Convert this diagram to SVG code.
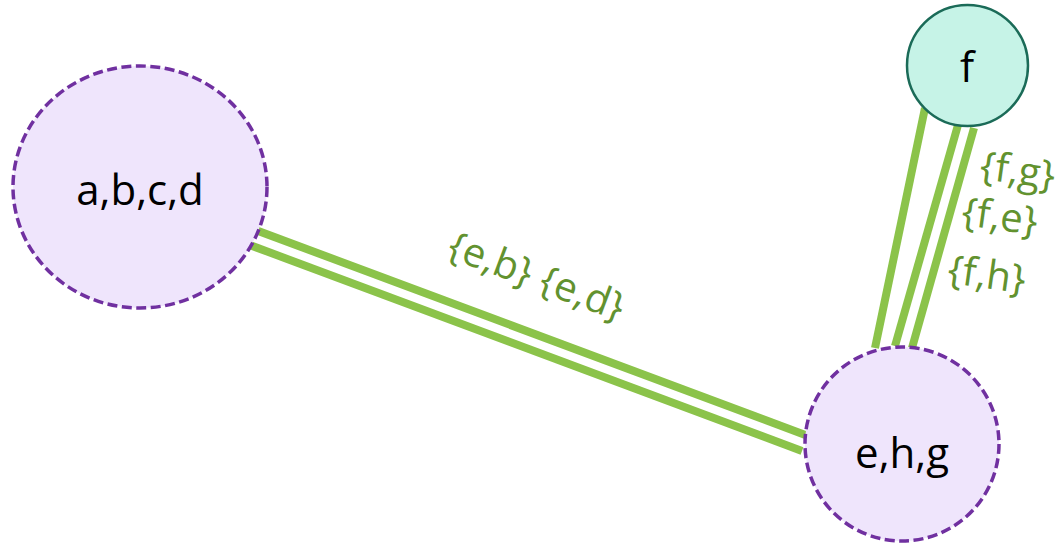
<svg xmlns="http://www.w3.org/2000/svg" width="1062" height="547" viewBox="0 0 1062 547">
<style>
.grp{fill:#EFE5FC;stroke:#7030A0;stroke-width:3.5;stroke-dasharray:10 4.5}
.single{fill:#C6F3E7;stroke:#1B6B58;stroke-width:2.5}
.edge{stroke:#8BC34A;stroke-width:8;fill:none}
.nl{font-family:"Open Sans","Liberation Sans",sans-serif;font-size:42px;fill:#000;text-anchor:middle}
.el{font-family:"Open Sans","Liberation Sans",sans-serif;font-size:40px;fill:#62922F;text-anchor:middle}
</style>
<rect width="1062" height="547" fill="#fff"/>
<g id="connectors">
<line class="edge" x1="253" y1="229" x2="808" y2="436"/>
<line class="edge" x1="247" y1="244" x2="802" y2="451"/>
<line class="edge" x1="925" y1="108" x2="875" y2="348"/>
<line class="edge" x1="958" y1="125" x2="895" y2="346"/>
<line class="edge" x1="974" y1="128" x2="912" y2="348"/>
<text class="el" transform="translate(532,289) rotate(20.5)">{e,b} {e,d}</text>
<text class="el" transform="translate(1016,184) rotate(8)">{f,g}</text>
<text class="el" transform="translate(998,230) rotate(8)">{f,e}</text>
<text class="el" transform="translate(985,288) rotate(8)">{f,h}</text>
</g>
<g id="node-abcd">
<ellipse class="grp" cx="140" cy="187" rx="127" ry="121"/>
<text class="nl" x="140" y="205">a,b,c,d</text>
</g>
<g id="node-ehg">
<circle class="grp" cx="902" cy="444" r="97"/>
<text class="nl" x="902" y="468">e,h,g</text>
</g>
<g id="node-f">
<circle class="single" cx="967.5" cy="65.5" r="60.5"/>
<text class="nl" x="967" y="82">f</text>
</g>
</svg>
